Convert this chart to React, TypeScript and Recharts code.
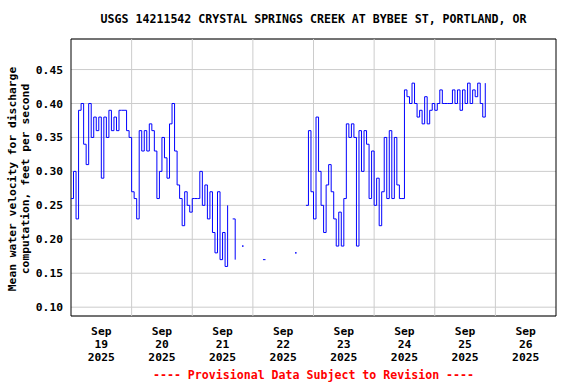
import { CartesianGrid, Line, LineChart, ReferenceArea, ReferenceLine, XAxis, YAxis } from "recharts";

const MONTH = "Sep";
const YEAR = "2025";
const DAY_LABELS = ["19", "20", "21", "22", "23", "24", "25", "26"];
const Y_TICKS = [0.1, 0.15, 0.2, 0.25, 0.3, 0.35, 0.4, 0.45];
const TITLE = "USGS 14211542 CRYSTAL SPRINGS CREEK AT BYBEE ST, PORTLAND, OR";
const Y_LABEL = ["Mean water velocity for discharge", "computation, feet per second"];
const FOOTER = "---- Provisional Data Subject to Revision ----";

// hourly readings, one list per day (null = no data)
const sep19 = [0.26, 0.3, 0.23, 0.39, 0.4, 0.34, 0.31, 0.4, 0.35, 0.38, 0.36, 0.38, 0.29, 0.38, 0.35, 0.39, 0.36, 0.38, 0.36, 0.39, 0.39, 0.39, 0.36, 0.35];
const sep20 = [0.27, 0.26, 0.23, 0.36, 0.33, 0.36, 0.33, 0.37, 0.36, 0.33, 0.26, 0.3, 0.35, 0.32, 0.29, 0.37, 0.4, 0.33, 0.28, 0.26, 0.22, 0.27, 0.25, 0.24];
const sep21 = [0.26, 0.26, 0.26, 0.3, 0.25, 0.28, 0.23, 0.27, 0.21, 0.18, 0.27, 0.17, 0.21, 0.16, 0.25, null, 0.23, 0.17, null, null, 0.19, null, null, null];
const sep22 = [null, null, null, null, 0.17, 0.17, null, null, null, null, null, null, null, null, null, null, null, 0.18, null, null, null, 0.25, 0.36, 0.27];
const sep23 = [0.23, 0.38, 0.3, 0.25, 0.21, 0.28, 0.31, 0.27, 0.23, 0.19, 0.24, 0.19, 0.26, 0.37, 0.35, 0.37, 0.35, 0.19, 0.36, 0.3, 0.36, 0.34, 0.26, 0.33];
const sep24 = [0.25, 0.29, 0.22, 0.27, 0.35, 0.26, 0.36, 0.26, 0.35, 0.28, 0.26, 0.26, 0.42, 0.41, 0.4, 0.43, 0.4, 0.38, 0.39, 0.37, 0.41, 0.37, 0.39, 0.4];
const sep25 = [0.39, 0.4, 0.42, 0.4, 0.4, 0.4, 0.4, 0.42, 0.4, 0.42, 0.39, 0.42, 0.4, 0.43, 0.4, 0.42, 0.41, 0.43, 0.4, 0.38, 0.43, null, null, null];

const data = [sep19, sep20, sep21, sep22, sep23, sep24, sep25]
  .flat()
  .map((v, i) => ({ hour: i, velocity: v }));

const midnights = DAY_LABELS.slice(1, 8).map((_, i) => (i + 1) * 24);
const noons = DAY_LABELS.map((_, i) => i * 24 + 12);

const font = { fontFamily: "'DejaVu Sans Mono', monospace", fontWeight: "bold", fontSize: 11.3 } as const;

function isIsolated(i: number) {
  const prev = data[i - 1]?.velocity ?? null;
  const next = data[i + 1]?.velocity ?? null;
  return data[i].velocity != null && prev == null && next == null;
}

function DayTick(props: any) {
  const { x, y, payload } = props;
  const day = DAY_LABELS[Math.round((payload.value - 12) / 24)];
  return (
    <text x={x} y={y} textAnchor="middle" fill="#000" style={font}>
      <tspan x={x} dy={19}>{MONTH}</tspan>
      <tspan x={x} dy={13}>{day}</tspan>
      <tspan x={x} dy={13}>{YEAR}</tspan>
    </text>
  );
}

function LoneDot(props: any) {
  const { cx, cy, index } = props;
  if (cx == null || cy == null || !isIsolated(index)) return <g key={index} />;
  return <rect key={index} x={cx - 0.75} y={cy - 0.75} width={1.5} height={1.5} fill="#0000ff" />;
}

export default function App() {
  return (
    <div style={{ position: "absolute", left: 0, top: 0, width: 576, height: 384, background: "#fff" }}>
      <LineChart width={576} height={384} data={data} margin={{ top: 39, right: 20, bottom: 0, left: 0 }}>
        <CartesianGrid vertical={false} stroke="#cccccc" />
        {midnights.map((m) => (
          <ReferenceLine key={m} x={m} stroke="#cccccc" />
        ))}
        <XAxis
          dataKey="hour"
          type="number"
          domain={[0, 192]}
          ticks={noons}
          interval={0}
          height={68}
          tickLine={false}
          axisLine={false}
          tickSize={0}
          tickMargin={0}
          tick={<DayTick />}
        />
        <YAxis
          type="number"
          domain={[0.087, 0.495]}
          ticks={Y_TICKS}
          allowDataOverflow
          width={71}
          tickLine={false}
          axisLine={false}
          tickSize={0}
          tickMargin={8}
          tick={{ fill: "#000", ...font }}
          tickFormatter={(v: number) => v.toFixed(2)}
        />
        <Line
          dataKey="velocity"
          type="stepAfter"
          stroke="#0000ff"
          strokeWidth={1}
          dot={LoneDot}
          activeDot={false}
          isAnimationActive={false}
        />
        <ReferenceArea x1={0} x2={192} y1={0.087} y2={0.495} fill="none" stroke="#000" strokeWidth={1} />
      </LineChart>
      <svg width={576} height={384} style={{ position: "absolute", left: 0, top: 0, pointerEvents: "none" }}>
        <text x={313.5} y={23} textAnchor="middle" fill="#000" style={{ ...font, fontSize: 11.6 }}>
          {TITLE}
        </text>
        <g transform="translate(0,179) rotate(-90)">
          <text x={0} y={16} textAnchor="middle" fill="#000" style={font}>
            {Y_LABEL[0]}
          </text>
          <text x={0} y={29} textAnchor="middle" fill="#000" style={font}>
            {Y_LABEL[1]}
          </text>
        </g>
        <text x={313.5} y={379} textAnchor="middle" fill="#ff0000" style={{ ...font, fontSize: 11.6 }}>
          {FOOTER}
        </text>
      </svg>
    </div>
  );
}
